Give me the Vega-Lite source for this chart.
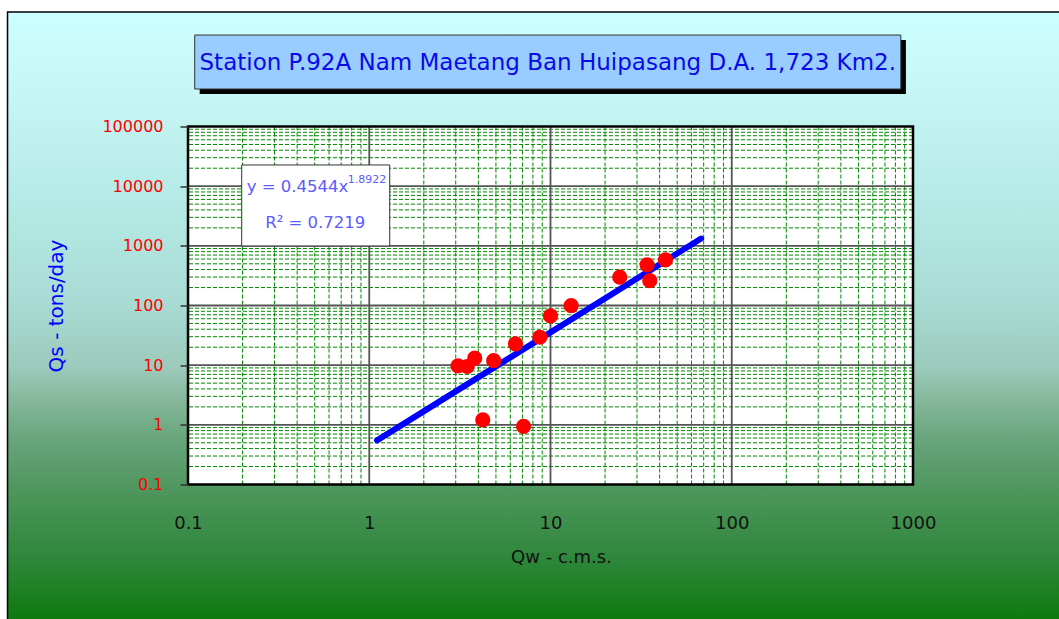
{
  "$schema": "https://vega.github.io/schema/vega-lite/v6.json",
  "width": 725,
  "height": 358,
  "autosize": {"type": "none"},
  "padding": {"left": 188, "top": 126.5, "right": 146, "bottom": 134.5},
  "background": "#ffffff",
  "config": {
    "view": {"stroke": null, "fill": null},
    "text": {"font": "DejaVu Sans"},
    "axis": {"labelFont": "DejaVu Sans", "titleFont": "DejaVu Sans", "titleFontWeight": "normal"}
  },
  "datasets": {
    "pts": [
      {"q": 3.09, "v": 9.7},
      {"q": 3.47, "v": 9.5},
      {"q": 3.82, "v": 13.1},
      {"q": 4.86, "v": 11.9},
      {"q": 6.41, "v": 22.8},
      {"q": 8.73, "v": 29.4},
      {"q": 10.0, "v": 67},
      {"q": 4.23, "v": 1.21},
      {"q": 7.1, "v": 0.94},
      {"q": 13.0, "v": 99.5},
      {"q": 24.1, "v": 298},
      {"q": 34.1, "v": 479},
      {"q": 35.3, "v": 261},
      {"q": 43.1, "v": 581}
    ],
    "fit": [
      {"q": 1.104, "v": 0.548},
      {"q": 67.8, "v": 1325}
    ],
    "xminor": [
      {"q": 0.2}, {"q": 0.3}, {"q": 0.4}, {"q": 0.5}, {"q": 0.6}, {"q": 0.7}, {"q": 0.8}, {"q": 0.9},
      {"q": 2}, {"q": 3}, {"q": 4}, {"q": 5}, {"q": 6}, {"q": 7}, {"q": 8}, {"q": 9},
      {"q": 20}, {"q": 30}, {"q": 40}, {"q": 50}, {"q": 60}, {"q": 70}, {"q": 80}, {"q": 90},
      {"q": 200}, {"q": 300}, {"q": 400}, {"q": 500}, {"q": 600}, {"q": 700}, {"q": 800}, {"q": 900}
    ],
    "xmajor": [{"q": 1}, {"q": 10}, {"q": 100}],
    "yminor": [
      {"v": 0.2}, {"v": 0.3}, {"v": 0.4}, {"v": 0.5}, {"v": 0.6}, {"v": 0.7}, {"v": 0.8}, {"v": 0.9},
      {"v": 2}, {"v": 3}, {"v": 4}, {"v": 5}, {"v": 6}, {"v": 7}, {"v": 8}, {"v": 9},
      {"v": 20}, {"v": 30}, {"v": 40}, {"v": 50}, {"v": 60}, {"v": 70}, {"v": 80}, {"v": 90},
      {"v": 200}, {"v": 300}, {"v": 400}, {"v": 500}, {"v": 600}, {"v": 700}, {"v": 800}, {"v": 900},
      {"v": 2000}, {"v": 3000}, {"v": 4000}, {"v": 5000}, {"v": 6000}, {"v": 7000}, {"v": 8000}, {"v": 9000},
      {"v": 20000}, {"v": 30000}, {"v": 40000}, {"v": 50000}, {"v": 60000}, {"v": 70000}, {"v": 80000}, {"v": 90000}
    ],
    "ymajor": [{"v": 1}, {"v": 10}, {"v": 100}, {"v": 1000}, {"v": 10000}],
    "one": [{}]
  },
  "layer": [
    {
      "data": {"name": "one"},
      "mark": {
        "type": "rect",
        "stroke": "#000000",
        "strokeWidth": 1.5,
        "fill": {
          "gradient": "linear", "x1": 0, "y1": 0, "x2": 0, "y2": 1,
          "stops": [
            {"offset": 0, "color": "#ccffff"},
            {"offset": 0.135, "color": "#c4f6f4"},
            {"offset": 0.288, "color": "#b6eae6"},
            {"offset": 0.442, "color": "#a8dcd4"},
            {"offset": 0.545, "color": "#9ccabc"},
            {"offset": 0.595, "color": "#86b89c"},
            {"offset": 0.646, "color": "#6ca880"},
            {"offset": 0.698, "color": "#5a9c6c"},
            {"offset": 0.748, "color": "#4a9458"},
            {"offset": 0.799, "color": "#3a8c48"},
            {"offset": 0.851, "color": "#2a8636"},
            {"offset": 0.902, "color": "#187e1c"},
            {"offset": 0.931, "color": "#0e7a10"},
            {"offset": 1, "color": "#0e7a10"}
          ]
        }
      },
      "encoding": {
        "x": {
          "datum": 0.0101, "type": "quantitative",
          "scale": {"type": "log", "domain": [0.1, 1000], "nice": false},
          "axis": {
            "title": "Qw - c.m.s.", "values": [0.1, 1, 10, 100, 1000], "format": "~g",
            "grid": false, "domain": false, "ticks": false, "labelPadding": 30, "labelFlush": false,
            "labelFontSize": 18, "labelColor": "#111111",
            "titleFontSize": 18, "titleColor": "#111111", "titlePadding": 16, "titleX": 373, "zindex": 1
          }
        },
        "x2": {"datum": 10000},
        "y": {
          "datum": 8280000, "type": "quantitative",
          "scale": {"type": "log", "domain": [0.1, 100000], "nice": false},
          "axis": {
            "title": "Qs - tons/day", "values": [0.1, 1, 10, 100, 1000, 10000, 100000], "format": "~g",
            "grid": false, "domain": false, "ticks": true, "tickSize": 8, "tickColor": "#333333", "tickWidth": 1.5,
            "labelPadding": 17, "labelFlush": false, "labelFontSize": 16, "labelColor": "#ff0000",
            "titleFontSize": 20, "titleColor": "#0000ff", "titlePadding": 35, "zindex": 1
          }
        },
        "y2": {"datum": 0.0001}
      }
    },
    {
      "data": {"name": "one"},
      "mark": {"type": "rect", "fill": "#000000"},
      "encoding": {
        "x": {"datum": 0.116, "type": "quantitative"},
        "x2": {"datum": 914},
        "y": {"datum": 2810000, "type": "quantitative"},
        "y2": {"datum": 350000}
      }
    },
    {
      "data": {"name": "one"},
      "mark": {"type": "rect", "fill": "#99ccff", "stroke": "#333333", "strokeWidth": 1},
      "encoding": {
        "x": {"datum": 0.1089, "type": "quantitative"},
        "x2": {"datum": 857},
        "y": {"datum": 3410000, "type": "quantitative"},
        "y2": {"datum": 424800}
      }
    },
    {
      "data": {"name": "one"},
      "mark": {"type": "text", "text": "Station P.92A Nam Maetang Ban Huipasang D.A. 1,723 Km2.", "font": "DejaVu Sans", "fontSize": 23, "color": "#0a0ae6", "align": "center", "baseline": "middle"},
      "encoding": {
        "x": {"datum": 9.66, "type": "quantitative"},
        "y": {"datum": 1158000, "type": "quantitative"}
      }
    },
    {
      "data": {"name": "one"},
      "mark": {"type": "rect", "fill": "#ffffff"},
      "encoding": {
        "x": {"datum": 0.1, "type": "quantitative"},
        "x2": {"datum": 1000},
        "y": {"datum": 0.1, "type": "quantitative"},
        "y2": {"datum": 100000}
      }
    },
    {
      "data": {"name": "yminor"},
      "mark": {"type": "rule", "color": "#008800", "strokeWidth": 1, "strokeDash": [4, 2]},
      "encoding": {
        "y": {"field": "v", "type": "quantitative"}
      }
    },
    {
      "data": {"name": "xminor"},
      "mark": {"type": "rule", "color": "#008800", "strokeWidth": 1, "strokeDash": [4, 2]},
      "encoding": {
        "x": {"field": "q", "type": "quantitative"}
      }
    },
    {
      "data": {"name": "ymajor"},
      "mark": {"type": "rule", "color": "#555555", "strokeWidth": 1.8},
      "encoding": {
        "y": {"field": "v", "type": "quantitative"}
      }
    },
    {
      "data": {"name": "xmajor"},
      "mark": {"type": "rule", "color": "#555555", "strokeWidth": 1.8},
      "encoding": {
        "x": {"field": "q", "type": "quantitative"}
      }
    },
    {
      "data": {"name": "one"},
      "mark": {"type": "rect", "fillOpacity": 0, "stroke": "#000000", "strokeWidth": 2.5},
      "encoding": {
        "x": {"datum": 0.1, "type": "quantitative"},
        "x2": {"datum": 1000},
        "y": {"datum": 0.1, "type": "quantitative"},
        "y2": {"datum": 100000}
      }
    },
    {
      "data": {"name": "fit"},
      "mark": {"type": "line", "color": "#0000ff", "strokeWidth": 6, "strokeCap": "round"},
      "encoding": {
        "x": {"field": "q", "type": "quantitative"},
        "y": {"field": "v", "type": "quantitative"}
      }
    },
    {
      "data": {"name": "pts"},
      "mark": {"type": "circle", "color": "#ff0000", "opacity": 1, "size": 230},
      "encoding": {
        "x": {"field": "q", "type": "quantitative"},
        "y": {"field": "v", "type": "quantitative"}
      }
    },
    {
      "data": {"name": "one"},
      "mark": {"type": "rect", "fill": "#ffffff", "stroke": "#333333", "strokeWidth": 1},
      "encoding": {
        "x": {"datum": 0.1978, "type": "quantitative"},
        "x2": {"datum": 1.297},
        "y": {"datum": 22650, "type": "quantitative"},
        "y2": {"datum": 995}
      }
    },
    {
      "data": {"name": "one"},
      "mark": {"type": "text", "text": "y = 0.4544x", "fontSize": 16.5, "color": "#5c5cff", "align": "left", "baseline": "middle"},
      "encoding": {
        "x": {"datum": 0.2109, "type": "quantitative"},
        "y": {"datum": 9510, "type": "quantitative"}
      }
    },
    {
      "data": {"name": "one"},
      "mark": {"type": "text", "text": "1.8922", "fontSize": 11, "color": "#5c5cff", "align": "left", "baseline": "middle"},
      "encoding": {
        "x": {"datum": 0.7609, "type": "quantitative"},
        "y": {"datum": 12700, "type": "quantitative"}
      }
    },
    {
      "data": {"name": "one"},
      "mark": {"type": "text", "text": "R² = 0.7219", "fontSize": 16.5, "color": "#5c5cff", "align": "center", "baseline": "middle"},
      "encoding": {
        "x": {"datum": 0.5035, "type": "quantitative"},
        "y": {"datum": 2371, "type": "quantitative"}
      }
    }
  ]
}
